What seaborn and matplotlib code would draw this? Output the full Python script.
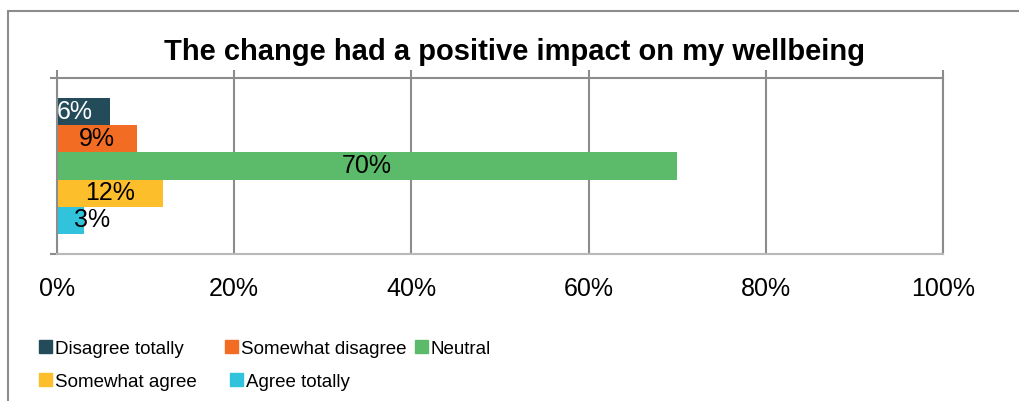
import matplotlib
matplotlib.use("Agg")
import matplotlib.pyplot as plt
import seaborn as sns
import pandas as pd
from matplotlib.lines import Line2D

title = "The change had a positive impact on my wellbeing"
responses = ["Disagree totally", "Somewhat disagree", "Neutral", "Somewhat agree", "Agree totally"]
values = [6, 9, 70, 12, 3]
colors = ["#234B5A", "#F36C24", "#5CBB6A", "#FDBE2C", "#30C3DB"]
label_colors = ["white", "black", "black", "black", "black"]
xticks = [0, 20, 40, 60, 80, 100]
xticklabels = ["0%", "20%", "40%", "60%", "80%", "100%"]

sns.set_theme(style="white")
plt.rcParams["font.family"] = ["Liberation Sans", "DejaVu Sans"]
plt.rcParams["text.color"] = "black"
plt.rcParams["axes.labelcolor"] = "black"

df = pd.DataFrame({"question": ["q"] * len(values), "response": responses, "value": values})

fig = plt.figure(figsize=(10.19, 4.01), dpi=100)
ax = fig.add_axes([57 / 1019, 1 - 254 / 401, (943 - 57) / 1019, (254 - 78) / 401])

sns.barplot(data=df, x="value", y="question", hue="response", hue_order=responses,
            palette=colors, orient="h", width=0.77, dodge=True, ax=ax,
            saturation=1, legend=False, errorbar=None, linewidth=0, edgecolor="none")

# value labels
offs = [-0.386 + 0.154 * (i + 0.5) for i in range(len(values))]
for i, (v, c) in enumerate(zip(values, label_colors)):
    if v >= 9:
        xpos, ha = v / 2, "center"
    elif i == 0:
        xpos, ha = 0.0, "left"
    else:
        xpos, ha = v / 2 + 0.4, "left"
    ax.text(xpos, offs[i], f"{v}%", ha=ha, va="center", color=c, fontsize=18)

ax.set_xlim(0, 100)
ax.set_ylim(0.5, -0.5)
ax.set_xticks(xticks)
ax.set_xticklabels(xticklabels, fontsize=18, color="black")
ax.set_yticks([-0.5, 0.5])
ax.set_yticklabels(["", ""])
ax.set_xlabel("")
ax.set_ylabel("")
ax.grid(axis="x", color="#8c8c8c", linewidth=1.5)
ax.set_axisbelow(True)
for s in ax.spines.values():
    s.set_color("#8c8c8c")
    s.set_linewidth(1.5)
ax.spines["bottom"].set_color("#b8b8b8")
ax.tick_params(axis="x", top=True, bottom=False, labeltop=False, labelbottom=True,
               direction="out", length=5.8, width=1.5, color="#8c8c8c", pad=11)
ax.tick_params(axis="y", left=True, direction="out", length=5, width=1.5, color="#8c8c8c")

fig.text(0.505, 1 - 52 / 401, title, ha="center", va="center", fontsize=21, fontweight="bold",
         color="black")

# legend entries laid out in flowing rows like the original
legend_pos = [(39, 349), (225, 349), (415, 349), (39, 382), (230, 382)]
for i, (px, py) in enumerate(legend_pos):
    h = plt.Rectangle((0, 0), 1, 1, color=colors[i])
    fig.legend([h], [responses[i]], loc="center left", bbox_to_anchor=(px / 1019, 1 - py / 401),
               frameon=False, fontsize=13.5, handlelength=0.68, handleheight=0.68,
               handletextpad=0.15, borderpad=0, borderaxespad=0, labelcolor="black")

# outer frame
fig.add_artist(Line2D([8 / 1019, 8 / 1019], [0, 1 - 11 / 401], transform=fig.transFigure, color="#8c8c8c", lw=1.5))
fig.add_artist(Line2D([8 / 1019, 1], [1 - 11 / 401, 1 - 11 / 401], transform=fig.transFigure, color="#8c8c8c", lw=1.5))

fig.savefig("out.png", dpi=100)
